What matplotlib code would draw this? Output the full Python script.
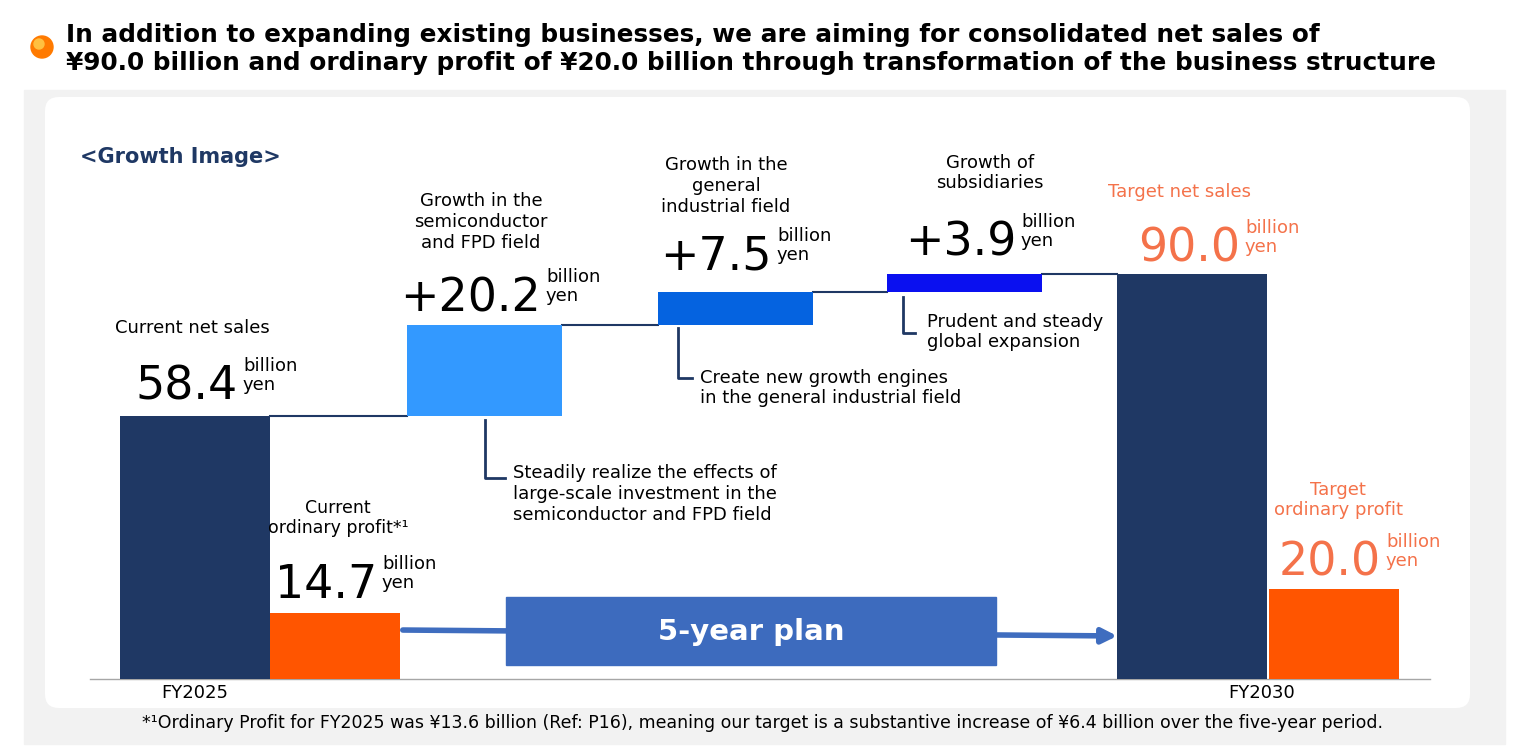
import matplotlib
matplotlib.use("Agg")
import matplotlib.pyplot as plt
from matplotlib.patches import FancyBboxPatch, Rectangle, Circle

categories = ["FY2025", "FY2030"]
net_sales = [58.4, 90.0]
ordinary_profit = [14.7, 20.0]
growth_labels = ["Growth in the\nsemiconductor\nand FPD field", "Growth in the\ngeneral\nindustrial field", "Growth of\nsubsidiaries"]
growth_values = [20.2, 7.5, 3.9]
growth_notes = ["Steadily realize the effects of\nlarge-scale investment in the\nsemiconductor and FPD field",
                "Create new growth engines\nin the general industrial field",
                "Prudent and steady\nglobal expansion"]

NAVY = "#1F3864"; ORANGE = "#FF5500"; SALMON = "#F4724A"
GCOL = ["#3399FF", "#0563E0", "#0A10F0"]
W, H = 1528, 754
S = 4.5; BASE = 679
fig = plt.figure(figsize=(W/100, H/100), dpi=100)
bg = fig.add_axes([0, 0, 1, 1]); bg.set_xlim(0, W); bg.set_ylim(H, 0); bg.axis("off")
bg.add_patch(Rectangle((24, 90), 1481, 654, color="#F2F2F2", zorder=0))
bg.add_patch(FancyBboxPatch((45, 97), 1425, 611, boxstyle="round,pad=0,rounding_size=14", fc="white", ec="none", zorder=1))
ax = fig.add_axes([0, 0, 1, 1]); ax.patch.set_alpha(0)
ax.set_xlim(0, W); ax.set_ylim(-(H-BASE)/S, BASE/S); ax.axis("off")
tx = fig.add_axes([0, 0, 1, 1]); tx.patch.set_alpha(0); tx.set_xlim(0, W); tx.set_ylim(H, 0); tx.axis("off")

ax.bar([195, 1192], net_sales, width=150, color=NAVY, zorder=3)
ax.bar([335, 1334], ordinary_profit, width=130, color=ORANGE, zorder=3)
ax.plot([90, 1430], [0, 0], color="#A6A6A6", lw=1, zorder=2)
gx = [484, 735, 964]; gw = [155, 155, 155]
bottom = net_sales[0]
prev_right = 270
for i, v in enumerate(growth_values):
    ax.bar(gx[i], v, bottom=bottom, width=gw[i], color=GCOL[i], zorder=3)
    ax.plot([prev_right, gx[i]-gw[i]/2], [bottom, bottom], color=NAVY, lw=1.5, zorder=2)
    bottom += v; prev_right = gx[i]+gw[i]/2
ax.plot([prev_right, 1117], [bottom, bottom], color=NAVY, lw=1.5, zorder=2)

for (x, y0, y1, x1) in [(485, 420, 478, 505), (678, 328, 378, 692), (903, 297, 333, 915)]:
    tx.plot([x, x, x1], [y0, y1, y1], color=NAVY, lw=2, zorder=4)

tx.annotate("", xy=(1120, 636), xytext=(400, 630),
            arrowprops=dict(arrowstyle="-|>", color="#3F6DBF", lw=4, mutation_scale=22), zorder=4)
tx.add_patch(Rectangle((506, 597), 490, 68, color="#3D6BBE", zorder=5))
tx.text(751, 632, "5-year plan", color="white", fontsize=21, fontweight="bold", ha="center", va="center", zorder=6)

def big(x, y, s, col="black", sub="billion\nyen"):
    tx.text(x, y, s, fontsize=33, ha="right", va="baseline", color=col, zorder=6)
    tx.text(x+5, y-10, sub, fontsize=13, ha="left", va="baseline", color=col, zorder=6, linespacing=1.1)

tx.add_patch(Circle((42, 47), 11, color="#FF7A00", zorder=6))
tx.add_patch(Circle((39, 44), 5, color="#FFC040", zorder=7))
tx.text(66, 49, "In addition to expanding existing businesses, we are aiming for consolidated net sales of\n"
        "¥90.0 billion and ordinary profit of ¥20.0 billion through transformation of the business structure",
        fontsize=17.8, fontweight="bold", va="center", ha="left", linespacing=1.25)
tx.text(80, 157, "<Growth Image>", fontsize=15, fontweight="bold", color=NAVY, va="center")

tx.text(192, 328, "Current net sales", fontsize=13, ha="center", va="center")
big(238, 400, "58.4")
tx.text(338, 518, "Current\nordinary profit*¹", fontsize=12.5, ha="center", va="center", linespacing=1.2)
big(377, 598, "14.7")
xs = [481, 726, 990]; ys = [222, 186, 173]
for i in range(3):
    tx.text(xs[i], ys[i], growth_labels[i], fontsize=13, ha="center", va="center", linespacing=1.2)
big(541, 311, "+20.2"); big(772, 270, "+7.5"); big(1016, 256, "+3.9")
tx.text(513, 494, growth_notes[0], fontsize=13, va="center", linespacing=1.2)
tx.text(700, 388, growth_notes[1], fontsize=13, va="center", linespacing=1.2)
tx.text(927, 332, growth_notes[2], fontsize=13, va="center", linespacing=1.2)
tx.text(1179, 192, "Target net sales", fontsize=13, ha="center", va="center", color=SALMON)
big(1240, 262, "90.0", SALMON)
tx.text(1338, 500, "Target\nordinary profit", fontsize=13, ha="center", va="center", color=SALMON, linespacing=1.2)
big(1381, 576, "20.0", SALMON)

tx.text(195, 693, categories[0], fontsize=13, ha="center", va="center")
tx.text(1262, 693, categories[1], fontsize=13, ha="center", va="center")
tx.text(762, 723, "*¹Ordinary Profit for FY2025 was ¥13.6 billion (Ref: P16), meaning our target is a substantive increase of ¥6.4 billion over the five-year period.",
        fontsize=12.5, ha="center", va="center")
fig.savefig("out.png", dpi=100)
